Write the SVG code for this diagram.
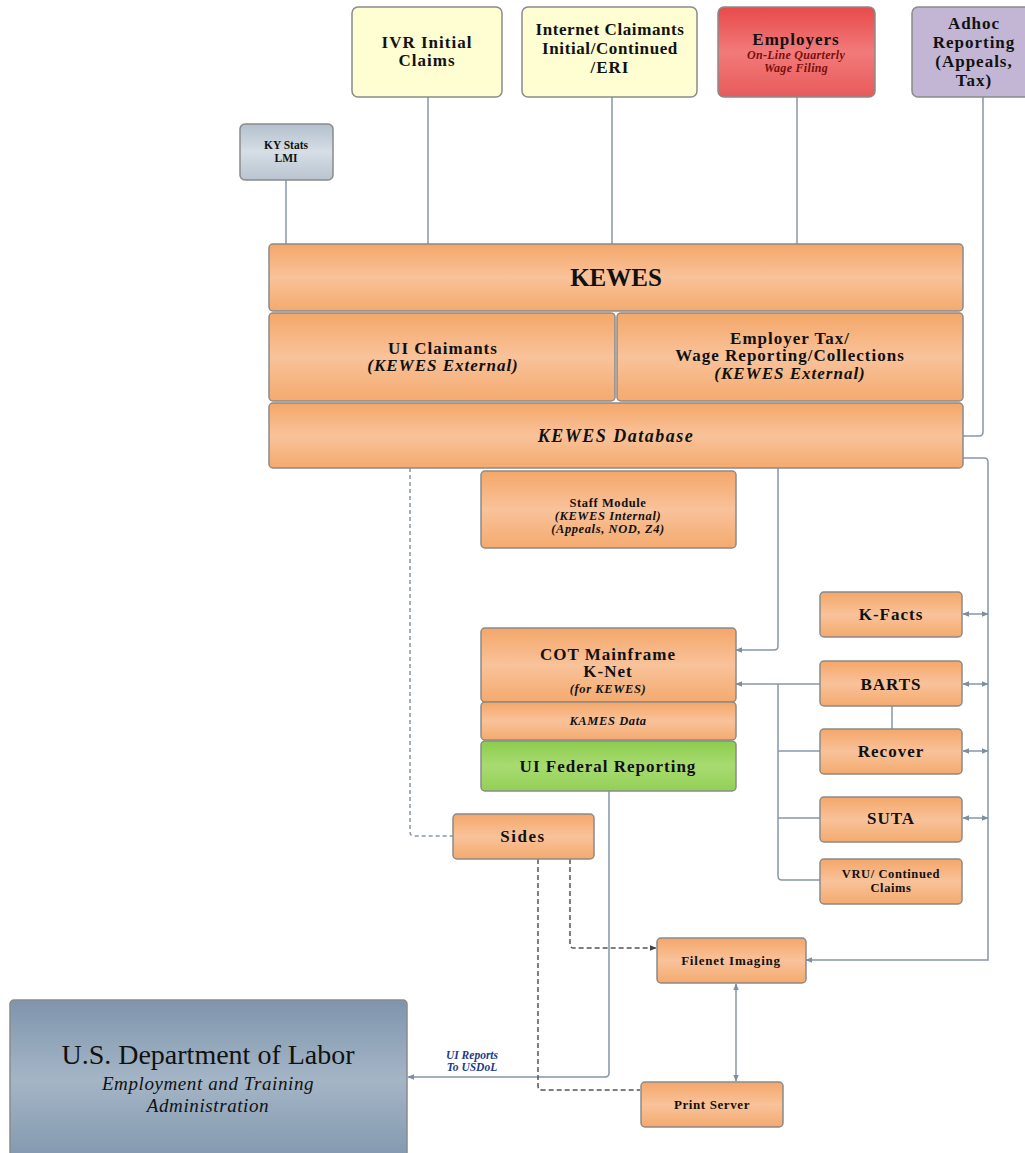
<svg xmlns="http://www.w3.org/2000/svg" width="1025" height="1153" viewBox="0 0 1025 1153">
<defs>
<linearGradient id="gOr" x1="0" y1="0" x2="0" y2="1"><stop offset="0" stop-color="#f4a769"/><stop offset="0.5" stop-color="#f9c29a"/><stop offset="1" stop-color="#f4aa6e"/></linearGradient>
<linearGradient id="gRed" x1="0" y1="0" x2="0" y2="1"><stop offset="0" stop-color="#e84a4a"/><stop offset="0.5" stop-color="#f27a7a"/><stop offset="1" stop-color="#e85a5a"/></linearGradient>
<linearGradient id="gGr" x1="0" y1="0" x2="0" y2="1"><stop offset="0" stop-color="#8ccd4c"/><stop offset="0.5" stop-color="#a9da72"/><stop offset="1" stop-color="#92d055"/></linearGradient>
<linearGradient id="gKy" x1="0" y1="0" x2="0" y2="1"><stop offset="0" stop-color="#b3c0cd"/><stop offset="0.5" stop-color="#d6dee6"/><stop offset="1" stop-color="#b8c4d0"/></linearGradient>
<linearGradient id="gDol" x1="0" y1="0" x2="0" y2="1"><stop offset="0" stop-color="#7f95ad"/><stop offset="0.5" stop-color="#a4b5c6"/><stop offset="1" stop-color="#8298af"/></linearGradient>
<marker id="ah" viewBox="0 0 10 10" refX="9" refY="5" markerWidth="4.5" markerHeight="4.5" orient="auto-start-reverse"><path d="M0,1 L10,5 L0,9 z" fill="#7d8e9f"/></marker>
<marker id="ahd" viewBox="0 0 10 10" refX="9" refY="5" markerWidth="4.5" markerHeight="4.5" orient="auto-start-reverse"><path d="M0,1 L10,5 L0,9 z" fill="#444"/></marker>
</defs>
<style>
.box{stroke:#8a8a8a;stroke-width:1.5}
.or{fill:url(#gOr)}
.t{font-family:"Liberation Serif",serif;font-weight:bold;fill:#111;text-anchor:middle}
.m{font-size:17px;letter-spacing:1px}
.s{font-size:12.5px;letter-spacing:0.6px}
.i{font-style:italic}
.c{fill:none;stroke:#8797a8;stroke-width:1.5}
.d{fill:none;stroke:#8797a8;stroke-width:1.5;stroke-dasharray:4 3}
.dk{fill:none;stroke:#555;stroke-width:1.5;stroke-dasharray:5 3}
</style>
<rect width="1025" height="1153" fill="#fff"/>
<g id="connectors">
<line class="c" x1="286" y1="180" x2="286" y2="244"/>
<line class="c" x1="428" y1="97" x2="428" y2="244"/>
<line class="c" x1="612" y1="97" x2="612" y2="244"/>
<line class="c" x1="797" y1="97" x2="797" y2="244"/>
<path class="c" d="M983,97 V432 Q983,436 979,436 H963"/>
<path class="c" d="M963,458 H984 Q988,458 988,462 V960 H806" marker-end="url(#ah)"/>
<path class="c" d="M778,468 V646 Q778,650 774,650 H736" marker-end="url(#ah)"/>
<path class="c" d="M820,684 H736" marker-end="url(#ah)"/>
<path class="c" d="M778,684 V876 Q778,880 782,880 H820"/>
<line class="c" x1="778" y1="751" x2="820" y2="751"/>
<line class="c" x1="778" y1="818" x2="820" y2="818"/>
<line class="c" x1="892" y1="706" x2="892" y2="729"/>
<line class="c" x1="963" y1="614" x2="988" y2="614" marker-start="url(#ah)" marker-end="url(#ah)"/>
<line class="c" x1="963" y1="684" x2="988" y2="684" marker-start="url(#ah)" marker-end="url(#ah)"/>
<line class="c" x1="963" y1="751" x2="988" y2="751" marker-start="url(#ah)" marker-end="url(#ah)"/>
<line class="c" x1="963" y1="818" x2="988" y2="818" marker-start="url(#ah)" marker-end="url(#ah)"/>
<path class="d" d="M410,468 V832 Q410,836 414,836 H453"/>
<path class="c" d="M609,791 V1073 Q609,1077 605,1077 H408" marker-end="url(#ah)"/>
<path class="dk" d="M570,859 V944 Q570,948 574,948 H656" marker-end="url(#ahd)"/>
<path class="dk" d="M538,859 V1086 Q538,1090 542,1090 H640"/>
<line class="c" x1="736" y1="984" x2="736" y2="1081" marker-start="url(#ah)" marker-end="url(#ah)"/>
</g>
<g id="ivr"><rect class="box" x="352" y="7" width="150" height="90" rx="6" fill="#fefed2" stroke="#a8a8a8"/><text class="t m" x="427" y="48">IVR Initial</text><text class="t m" x="427" y="66">Claims</text></g>
<g id="internet"><rect class="box" x="522" y="7" width="175" height="90" rx="6" fill="#fefed2"/><text class="t m" x="610" y="35" style="letter-spacing:0.6px">Internet Claimants</text><text class="t m" x="610" y="54" style="letter-spacing:0.6px">Initial/Continued</text><text class="t m" x="610" y="73">/ERI</text></g>
<g id="employers"><rect class="box" x="718" y="7" width="157" height="90" rx="6" fill="url(#gRed)"/><text class="t m" x="796" y="45">Employers</text><text class="t i" x="796" y="59" font-size="12" letter-spacing="0.3" style="fill:#7a0f0f">On-Line Quarterly</text><text class="t i" x="796" y="72" font-size="12" letter-spacing="0.3" style="fill:#7a0f0f">Wage Filing</text></g>
<g id="adhoc"><rect class="box" x="912" y="7" width="120" height="90" rx="6" fill="#c2b6d4"/><text class="t m" x="974" y="29">Adhoc</text><text class="t m" x="974" y="48">Reporting</text><text class="t m" x="974" y="67">(Appeals,</text><text class="t m" x="974" y="86">Tax)</text></g>
<g id="kystats"><rect class="box" x="240" y="124" width="93" height="56" rx="5" fill="url(#gKy)"/><text class="t" x="286" y="149" font-size="11.5">KY Stats</text><text class="t" x="286" y="162" font-size="11.5">LMI</text></g>
<g id="kewes"><rect class="box or" x="269" y="244" width="694" height="67" rx="4"/><text class="t" x="616" y="286" font-size="25">KEWES</text></g>
<g id="uiclaimants"><rect class="box or" x="269" y="313" width="346" height="88" rx="4"/><text class="t m" x="443" y="354">UI Claimants</text><text class="t i m" x="443" y="371">(KEWES External)</text></g>
<g id="employertax"><rect class="box or" x="617" y="313" width="346" height="88" rx="4"/><text class="t m" x="790" y="344">Employer Tax/</text><text class="t m" x="790" y="361">Wage Reporting/Collections</text><text class="t i m" x="790" y="379">(KEWES External)</text></g>
<g id="kewesdb"><rect class="box or" x="269" y="403" width="694" height="65" rx="4"/><text class="t i" x="616" y="442" font-size="18" letter-spacing="1.5">KEWES Database</text></g>
<g id="staff"><rect class="box or" x="481" y="471" width="255" height="77" rx="4"/><text class="t s" x="608" y="507">Staff Module</text><text class="t i s" x="608" y="520">(KEWES Internal)</text><text class="t i s" x="608" y="533">(Appeals, NOD, Z4)</text></g>
<g id="cot"><rect class="box or" x="481" y="628" width="255" height="74" rx="4"/><text class="t m" x="608" y="660">COT Mainframe</text><text class="t m" x="608" y="677">K-Net</text><text class="t i s" x="608" y="693">(for KEWES)</text></g>
<g id="kames"><rect class="box or" x="481" y="702" width="255" height="38" rx="4"/><text class="t i s" x="608" y="725">KAMES Data</text></g>
<g id="uifed"><rect class="box" x="481" y="741" width="255" height="50" rx="4" fill="url(#gGr)"/><text class="t m" x="608" y="772">UI Federal Reporting</text></g>
<g id="kfacts"><rect class="box or" x="820" y="592" width="142" height="45" rx="4"/><text class="t m" x="891" y="620">K-Facts</text></g>
<g id="barts"><rect class="box or" x="820" y="661" width="142" height="45" rx="4"/><text class="t m" x="891" y="690">BARTS</text></g>
<g id="recover"><rect class="box or" x="820" y="729" width="142" height="45" rx="4"/><text class="t m" x="891" y="757">Recover</text></g>
<g id="suta"><rect class="box or" x="820" y="797" width="142" height="45" rx="4"/><text class="t m" x="891" y="824">SUTA</text></g>
<g id="vru"><rect class="box or" x="820" y="859" width="142" height="45" rx="4"/><text class="t s" x="891" y="878">VRU/ Continued</text><text class="t s" x="891" y="892">Claims</text></g>
<g id="sides"><rect class="box or" x="453" y="814" width="141" height="45" rx="4"/><text class="t m" x="523" y="842" style="letter-spacing:1.5px">Sides</text></g>
<g id="filenet"><rect class="box or" x="657" y="938" width="149" height="45" rx="4"/><text class="t s" x="731" y="965" style="font-size:13px;letter-spacing:0.8px">Filenet Imaging</text></g>
<g id="print"><rect class="box or" x="641" y="1082" width="142" height="45" rx="4"/><text class="t s" x="712" y="1109" style="font-size:13px">Print Server</text></g>
<g id="dol"><rect class="box" x="10" y="1000" width="397" height="160" rx="4" fill="url(#gDol)"/><text class="t" x="208" y="1064" font-size="28" style="font-weight:normal">U.S. Department of Labor</text><text class="t i" x="208" y="1090" font-size="19" style="font-weight:normal;letter-spacing:0.6px">Employment and Training</text><text class="t i" x="208" y="1112" font-size="19" style="font-weight:normal;letter-spacing:0.6px">Administration</text></g>
<g id="label-uireports"><text class="t i" x="472" y="1059" font-size="11.5" style="fill:#1c3a8c">UI Reports</text><text class="t i" x="472" y="1071" font-size="11.5" style="fill:#1c3a8c">To USDoL</text></g>
</svg>
